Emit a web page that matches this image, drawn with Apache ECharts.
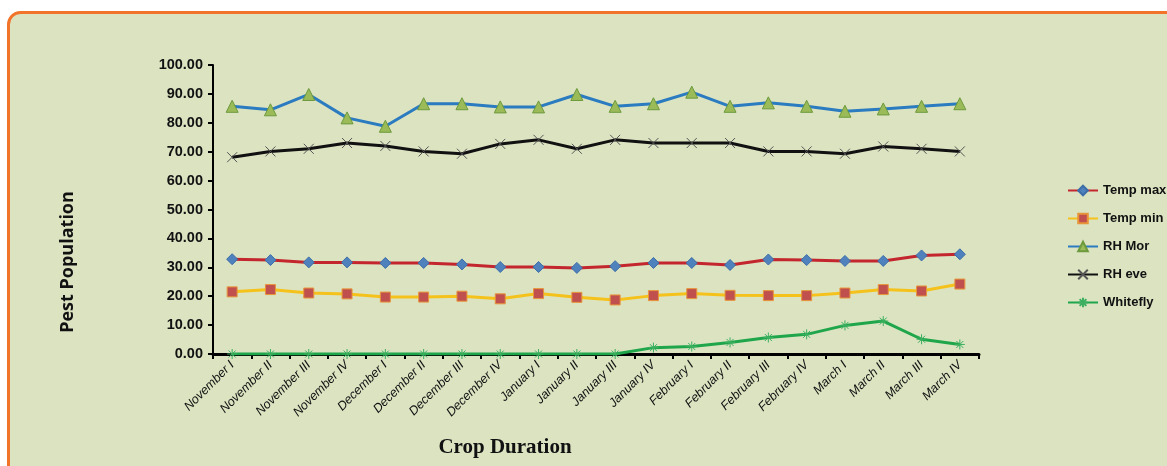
<!DOCTYPE html>
<html>
<head>
<meta charset="utf-8">
<title>Pest Population</title>
<script src="https://cdn.jsdelivr.net/npm/echarts@6/dist/echarts.min.js"></script>
<style>
  html, body { margin: 0; padding: 0; background: #ffffff; }
  #main { width: 1167px; height: 466px; }
</style>
</head>
<body>
<div id="main"></div>
<script>
const categories = ['November I', 'November II', 'November III', 'November IV', 'December I', 'December II', 'December III', 'December IV', 'January I', 'January II', 'January III', 'January IV', 'February I', 'February II', 'February III', 'February IV', 'March I', 'March II', 'March III', 'March IV']
const tempMax = [32.8, 32.5, 31.7, 31.7, 31.5, 31.5, 31.0, 30.1, 30.1, 29.8, 30.4, 31.5, 31.5, 30.8, 32.7, 32.5, 32.2, 32.2, 34.1, 34.5]
const tempMin = [21.5, 22.3, 21.1, 20.8, 19.7, 19.7, 20.0, 19.1, 20.9, 19.6, 18.7, 20.2, 20.9, 20.3, 20.2, 20.2, 21.1, 22.3, 21.8, 24.2]
const rhMor = [85.7, 84.5, 89.8, 81.7, 78.8, 86.6, 86.6, 85.5, 85.5, 89.8, 85.7, 86.6, 90.6, 85.7, 86.9, 85.7, 84.0, 84.8, 85.7, 86.6]
const rhEve = [68.1, 70.1, 71.0, 73.0, 72.0, 70.1, 69.3, 72.7, 74.1, 71.0, 74.1, 73.0, 73.0, 73.0, 70.1, 70.1, 69.3, 71.8, 71.0, 70.1]
const whitefly = [0, 0, 0, 0, 0, 0, 0, 0, 0, 0, 0, 2.2, 2.6, 4.0, 5.7, 6.8, 9.9, 11.4, 5.1, 3.3]
const yTicks = { min: 0, max: 100, interval: 10 }

// marker shapes that echarts has no name for
const crossPath = 'path://M0,0L10,10M10,0L0,10'
const starPath = 'path://M5,0L5,10M0,5L10,5M1.5,1.5L8.5,8.5M8.5,1.5L1.5,8.5'

const chart = echarts.init(document.getElementById('main'))

function lineSeries (name, data, lineColor, symbol, size, itemStyle) {
  return {
    name: name,
    type: 'line',
    data: data,
    symbol: symbol,
    symbolSize: size,
    showAllSymbol: true,
    lineStyle: { color: lineColor, width: 3 },
    itemStyle: itemStyle,
    emphasis: { disabled: true }
  }
}

const option = {
  backgroundColor: '#ffffff',
  animation: false,
  graphic: [
    {
      type: 'rect',
      z: -10,
      shape: { x: 8.5, y: 12.5, width: 1200, height: 500, r: 12 },
      style: { fill: '#dbe3c1', stroke: '#f2742a', lineWidth: 3 }
    },
    {
      type: 'text',
      x: 68,
      y: 262,
      rotation: Math.PI / 2,
      style: {
        text: 'Pest Population',
        font: 'bold 18px "Open Sans", sans-serif',
        fill: '#111111',
        align: 'center',
        verticalAlign: 'middle'
      }
    },
    {
      type: 'text',
      x: 505,
      y: 448,
      style: {
        text: 'Crop Duration',
        font: 'bold 21px "Liberation Serif", serif',
        fill: '#111111',
        align: 'center',
        verticalAlign: 'middle'
      }
    }
  ],
  legend: {
    orient: 'vertical',
    left: 1062,
    top: 179,
    itemWidth: 30,
    itemHeight: 12,
    itemGap: 15,
    textStyle: { fontFamily: 'Liberation Sans', fontWeight: 'bold', fontSize: 13, color: '#111111' },
    data: ['Temp max', 'Temp min', 'RH Mor', 'RH eve', 'Whitefly']
  },
  grid: {
    left: 213,
    right: 188,
    top: 65,
    bottom: 112
  },
  xAxis: {
    type: 'category',
    data: categories,
    boundaryGap: true,
    axisLine: { lineStyle: { color: '#000000', width: 3 } },
    axisTick: { show: true, length: 5, lineStyle: { color: '#000000', width: 2 } },
    axisLabel: {
      rotate: 45,
      interval: 0,
      margin: 9,
      fontFamily: 'Liberation Sans',
      fontStyle: 'italic',
      fontSize: 12.5,
      color: '#111111'
    },
    splitLine: { show: false }
  },
  yAxis: {
    type: 'value',
    min: yTicks.min,
    max: yTicks.max,
    interval: yTicks.interval,
    axisLine: { show: true, lineStyle: { color: '#000000', width: 2 } },
    axisTick: { show: true, length: 5, lineStyle: { color: '#000000', width: 2 } },
    axisLabel: {
      margin: 10,
      fontFamily: 'Liberation Sans',
      fontWeight: 'bold',
      fontSize: 14.5,
      color: '#111111',
      formatter: v => v.toFixed(2)
    },
    splitLine: { show: false }
  },
  series: [
    lineSeries('Temp max', tempMax, '#c4262e', 'diamond', 11, { color: '#4f81bd', borderColor: '#3d6ea8', borderWidth: 1 }),
    lineSeries('Temp min', tempMin, '#f5c21b', 'rect', 10, { color: '#c0504d', borderColor: '#e8953a', borderWidth: 1 }),
    lineSeries('RH Mor', rhMor, '#2b7bc0', 'triangle', 12, { color: '#9bbb59', borderColor: '#6d9a3c', borderWidth: 1 }),
    lineSeries('RH eve', rhEve, '#111111', crossPath, 10, { color: 'transparent', borderColor: '#555555', borderWidth: 1 }),
    lineSeries('Whitefly', whitefly, '#1fa64b', starPath, 10, { color: 'transparent', borderColor: '#3cb060', borderWidth: 1 })
  ]
}

chart.setOption(option)
</script>
</body>
</html>
